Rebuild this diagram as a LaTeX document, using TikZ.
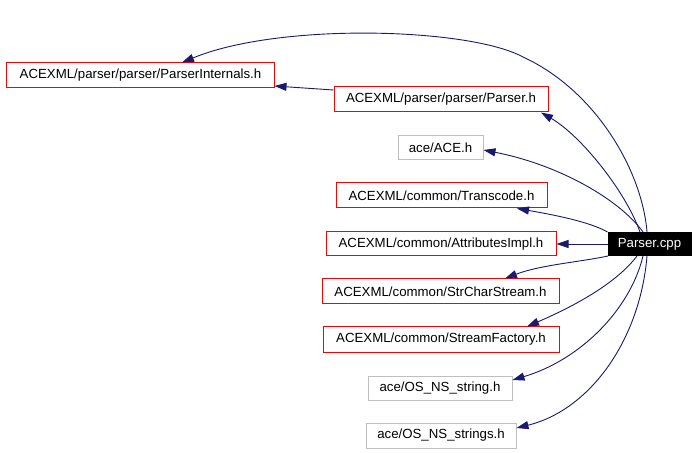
\documentclass[tikz,border=0pt]{standalone}
\usepackage{fontspec}
\setmainfont{Liberation Sans}
\usetikzlibrary{arrows.meta}
\definecolor{edgeblue}{HTML}{191970}
\definecolor{boxgray}{HTML}{BFBFBF}
\tikzset{
  filebox/.style={draw, line width=1bp, inner sep=0pt, font=\fontsize{13.3}{15}\selectfont, anchor=center},
  redbox/.style={filebox, draw=red},
  graybox/.style={filebox, draw=boxgray},
  mainbox/.style={filebox, draw=black, fill=black, text=white},
  dep/.style={draw=edgeblue, line width=0.9bp, -{Triangle[length=12bp,width=8bp]}, fill=none},
}
\begin{document}
\begin{tikzpicture}[x=1bp,y=-1bp]
\useasboundingbox (0,0) rectangle (699,453);
\fill[white] (0,0) rectangle (699,453);
\node[redbox, minimum width=267bp, minimum height=25bp] (pi) at (140.5,75.5) {ACEXML/parser/parser/ParserInternals.h};
\node[redbox, minimum width=214bp, minimum height=25bp] (ph) at (441,99.5) {ACEXML/parser/parser/Parser.h};
\node[graybox, minimum width=85bp, minimum height=24bp] (ace) at (440.5,148) {ace/ACE.h};
\node[redbox, minimum width=211bp, minimum height=25bp] (tc) at (441.5,195.5) {ACEXML/common/Transcode.h};
\node[redbox, minimum width=230bp, minimum height=24bp] (ai) at (441,244) {ACEXML/common/AttributesImpl.h};
\node[mainbox, minimum width=83bp, minimum height=23bp] (pcpp) at (649.5,244) {Parser.cpp};
\node[redbox, minimum width=237bp, minimum height=25bp] (scs) at (440.5,291.5) {ACEXML/common/StrCharStream.h};
\node[redbox, minimum width=236bp, minimum height=25bp] (sf) at (441,339.5) {ACEXML/common/StreamFactory.h};
\node[graybox, minimum width=144bp, minimum height=24bp] (osn) at (440,388) {ace/OS\_NS\_string.h};
\node[graybox, minimum width=150bp, minimum height=25bp] (osns) at (441,435.5) {ace/OS\_NS\_strings.h};

\coordinate (via) at (523,57);
\draw[dep] ([xshift=-2.5bp]pcpp.north) .. controls (642,170) and (595,90) .. (via)
  .. controls (470,28) and (280,22) .. ([xshift=41.5bp]pi.north);
\draw[dep] ([xshift=-9.5bp]pcpp.north) .. controls (625,190) and (580,135) .. ([xshift=100bp]ph.south);
\draw[dep] ([yshift=9.5bp]ph.west) -- ([yshift=-10.5bp]pi.east);
\draw[dep] ([xshift=-6.5bp]pcpp.north) .. controls (620,200) and (560,165) .. ([yshift=-2bp]ace.east);
\draw[dep] (pcpp.north west) .. controls (590,222) and (555,215) .. ([xshift=75.5bp]tc.south);
\draw[dep] (pcpp.west) -- (ai.east);
\draw[dep] ([xshift=-41.5bp]pcpp.south) .. controls (580,262) and (540,265) .. ([xshift=64.5bp]scs.north);
\draw[dep] ([xshift=-12.5bp]pcpp.south) .. controls (615,285) and (570,308) .. ([xshift=86bp]sf.north);
\draw[dep] ([xshift=-6.5bp]pcpp.south) .. controls (630,310) and (580,360) .. ([yshift=8bp]osn.east);
\draw[dep] ([xshift=-2.5bp]pcpp.south) .. controls (640,340) and (590,410) .. ([yshift=7.5bp]osns.east);
\end{tikzpicture}
\end{document}
